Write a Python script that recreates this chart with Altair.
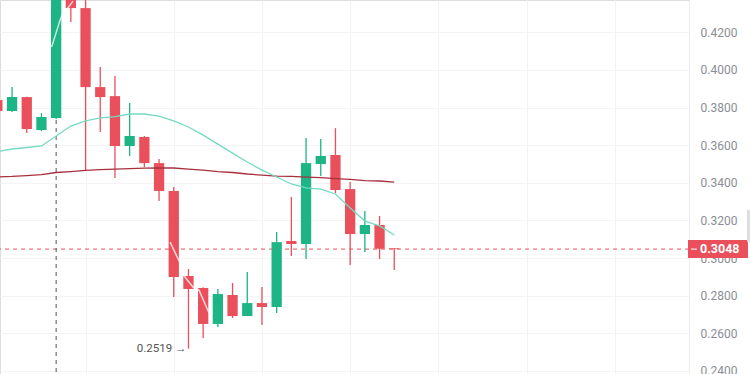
import altair as alt
import pandas as pd

# ---- data ----
idx = list(range(28))
opens = [0.3840, 0.3782, 0.3856, 0.3681, 0.3745, 0.4450, 0.4329, 0.3909, 0.3861, 0.3596,
         0.3644, 0.3505, 0.3357, 0.2905, 0.2841, 0.2650, 0.2804, 0.2692, 0.2761, 0.2740,
         0.3091, 0.3075, 0.3500, 0.3548, 0.3367, 0.3128, 0.3176, 0.3052]
highs = [0.3867, 0.3909, 0.3858, 0.3771, 0.4500, 0.4500, 0.4450, 0.4016, 0.3968, 0.3824,
         0.3649, 0.3527, 0.3378, 0.2942, 0.2845, 0.2836, 0.2868, 0.2926, 0.2846, 0.3139,
         0.3325, 0.3638, 0.3633, 0.3691, 0.3404, 0.3250, 0.3224, 0.3052]
lows = [0.3766, 0.3776, 0.3665, 0.3675, 0.3739, 0.4255, 0.3468, 0.3670, 0.3426, 0.3543,
        0.3484, 0.3303, 0.2793, 0.2519, 0.2575, 0.2634, 0.2682, 0.2692, 0.2644, 0.2708,
        0.3011, 0.2995, 0.3436, 0.3346, 0.2963, 0.3032, 0.2995, 0.2937]
closes = [0.3782, 0.3856, 0.3686, 0.3750, 0.4450, 0.4329, 0.3909, 0.3856, 0.3596, 0.3649,
          0.3505, 0.3357, 0.2899, 0.2836, 0.2650, 0.2809, 0.2692, 0.2761, 0.2740, 0.3085,
          0.3075, 0.3505, 0.3543, 0.3362, 0.3128, 0.3176, 0.3050, 0.3048]
ma_fast = [0.3566, 0.3580, 0.3588, 0.3596, 0.3649, 0.3702, 0.3729, 0.3745, 0.3752, 0.3766,
           0.3766, 0.3755, 0.3729, 0.3697, 0.3654, 0.3606, 0.3558, 0.3511, 0.3468, 0.3431,
           0.3394, 0.3373, 0.3367, 0.3341, 0.3266, 0.3197, 0.3171, 0.3123]
ma_slow = [0.3431, 0.3434, 0.3439, 0.3444, 0.3455, 0.3460, 0.3466, 0.3470, 0.3473, 0.3476,
           0.3478, 0.3479, 0.3479, 0.3473, 0.3468, 0.3460, 0.3455, 0.3447, 0.3441, 0.3436,
           0.3434, 0.3431, 0.3428, 0.3423, 0.3418, 0.3412, 0.3410, 0.3404]

# light line seen only where it crosses candle bodies
white_x = [3.69, 3.99, 4.27, 4.47, 4.74, 5.15, 11.75, 12.43, 12.70, 13.31, 13.72, 14.40]
white_y = [0.4122, 0.4196, 0.4265, 0.4303, 0.4324, 0.4366, 0.3085, 0.2974, 0.2905, 0.2846, 0.2830, 0.2708]
white_seg = ["a"] * 6 + ["b"] * 6

last_price = 0.3048
low_mark = 0.2519
low_idx = 13
cross_idx = 4
y_ticks = [0.24, 0.26, 0.28, 0.30, 0.32, 0.34, 0.36, 0.38, 0.40, 0.42]
x_grid = [6, 12, 18, 24, 30, 36, 42]

GREEN = "#1db585"
RED = "#e9505b"

df = pd.DataFrame({"i": idx, "open": opens, "high": highs, "low": lows, "close": closes,
                   "fast": ma_fast, "slow": ma_slow})
df["xl"] = df["i"] - 0.35
df["xr"] = df["i"] + 0.35
df["up"] = df["close"] >= df["open"]
wdf = pd.DataFrame({"i": white_x, "v": white_y, "seg": white_seg})

xs = alt.Scale(domain=[0.18, 47.05], nice=False, zero=False)
ys = alt.Scale(domain=[0.2384, 0.4372], nice=False, zero=False)

X = alt.X("i:Q", scale=xs,
          axis=alt.Axis(values=x_grid, labels=False, ticks=False, domain=False, title=None,
                        grid=True, gridColor="#f2f2f2"))
Y_AX = alt.Axis(orient="right", values=y_ticks, format=".4f", title=None, tickSize=0,
                labelPadding=11, labelColor="#8a8e96", labelFont="Roboto", labelFontSize=12,
                domain=True, domainColor="#eeeeee", grid=True, gridColor="#f4f4f4")

base = alt.Chart(df)

vline = alt.Chart(pd.DataFrame({"i": [cross_idx]})).mark_rule(
    color="#555555", strokeDash=[4, 4], strokeWidth=1).encode(x=alt.X("i:Q", scale=xs))

hline = alt.Chart(pd.DataFrame({"p": [last_price]})).mark_rule(
    color=RED, strokeDash=[4, 4], strokeWidth=1).encode(
    y=alt.Y("p:Q", scale=ys, axis=Y_AX))

color_enc = alt.condition("datum.up", alt.value(GREEN), alt.value(RED))

wicks = base.mark_rule(strokeWidth=1.3, clip=True).encode(
    x=X, y=alt.Y("low:Q", scale=ys), y2="high:Q", color=color_enc)

bodies = base.mark_rect(clip=True).encode(
    x=alt.X("xl:Q", scale=xs), x2="xr:Q",
    y=alt.Y("open:Q", scale=ys), y2="close:Q", color=color_enc)

whites = alt.Chart(wdf).mark_line(color="#ffffff", strokeWidth=1.5, opacity=0.75, clip=True).encode(
    x=alt.X("i:Q", scale=xs), y=alt.Y("v:Q", scale=ys), detail="seg:N")

slow_line = base.mark_line(color="#a8303c", strokeWidth=1.3, clip=True).encode(
    x=alt.X("i:Q", scale=xs), y=alt.Y("slow:Q", scale=ys))
fast_line = base.mark_line(color="#76d9c4", strokeWidth=1.3, clip=True).encode(
    x=alt.X("i:Q", scale=xs), y=alt.Y("fast:Q", scale=ys))

low_txt = alt.Chart(pd.DataFrame({"i": [low_idx], "p": [low_mark],
                                  "t": [f"{low_mark:.4f} \u2192"]})).mark_text(
    align="right", baseline="middle", dx=-2, fontSize=11.5, font="Roboto", color="#555555").encode(
    x=alt.X("i:Q", scale=xs), y=alt.Y("p:Q", scale=ys), text="t:N")

lp = pd.DataFrame({"p": [last_price], "t": [f"{last_price:.4f}"]})
box = alt.Chart(lp).mark_point(
    shape="M-1,-0.3L1,-0.3L1,0.3L-1,0.3Z", size=3600, filled=True, opacity=1,
    color=RED, strokeWidth=0).encode(x=alt.value(718), y=alt.Y("p:Q", scale=ys))
box_tick = alt.Chart(lp).mark_rule(color="#ffffff", strokeWidth=1).encode(
    x=alt.value(691), x2=alt.value(697), y=alt.Y("p:Q", scale=ys))
box_txt = alt.Chart(lp).mark_text(
    align="left", baseline="middle", fontSize=12.5, font="Roboto", fontWeight="bold",
    color="#ffffff").encode(x=alt.value(700), y=alt.Y("p:Q", scale=ys), text="t:N")

# thin scrollbar handle at the right edge of the price scale
scroll = alt.Chart(pd.DataFrame({"k": [0]})).mark_rect(color="#dedede").encode(
    x=alt.value(747), x2=alt.value(750), y=alt.value(210), y2=alt.value(242))

chart = alt.layer(
    hline, vline, wicks, bodies, whites, slow_line, fast_line, low_txt, box, box_tick, box_txt,
    scroll
).properties(
    width=689, height=374,
    autosize=alt.AutoSizeParams(type="none"),
    padding={"left": 0, "top": 0, "right": 61, "bottom": 0},
).configure_view(stroke=None).configure(background="#ffffff")

chart.save("out.html", embed_options={"renderer": "svg", "actions": False})
